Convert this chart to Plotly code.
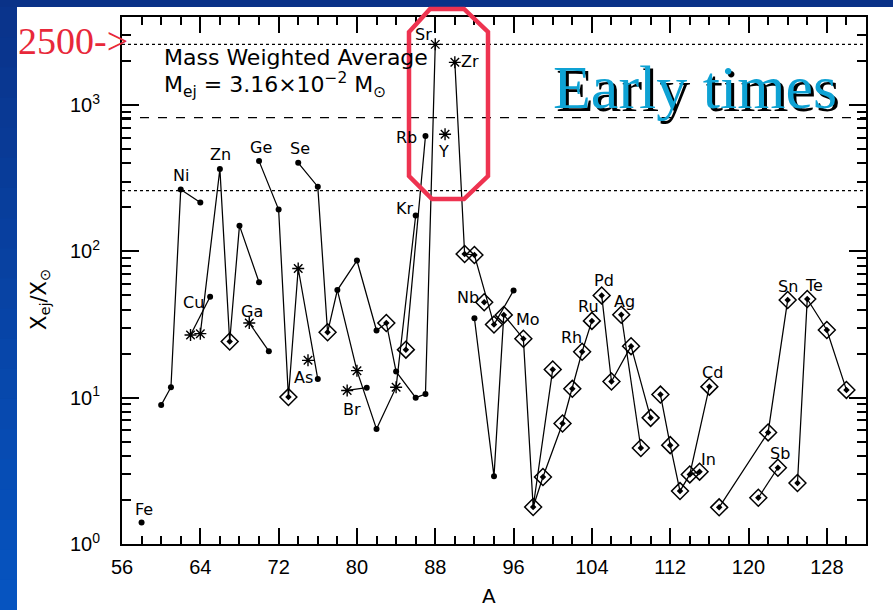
import math
import plotly.graph_objects as go

# ---------------- data: mass number A and X_ej / X_sun ----------------
fe_A = [58];                          fe_X = [1.4]
ni_A = [60, 61, 62, 64];              ni_X = [8.9, 11.8, 265, 216]
cu_A = [63, 65];                      cu_X = [26.8, 49.0]
zn_A = [64, 66, 67, 68, 70];          zn_X = [27.4, 366, 24.2, 150, 61.5]
ga_A = [69, 71];                      ga_X = [32.4, 20.8]
ge_A = [70, 72, 73, 74, 76];          ge_X = [414, 193, 10.1, 76.4, 13.4]
as_A = [75];                          as_X = [18.0]
se_A = [74, 76, 77, 78, 80, 82];      se_X = [403, 277, 28.0, 54.4, 86.6, 28.8]
br_A = [79, 81];                      br_X = [11.2, 11.7]
kr_A = [78, 80, 82, 84, 86];          kr_X = [54.4, 15.3, 6.1, 11.8, 176]
k83_A = [82, 83, 84];                 k83_X = [28.8, 32.4, 15.1]
rb_A = [85, 87];                      rb_X = [21.3, 615]
sr_A = [84, 86, 87, 88];              sr_X = [15.1, 10.0, 10.6, 2600]
y_A = [89];                           y_X = [632]
zr_A = [90, 91, 92, 94, 96];          zr_X = [1960, 96, 94.5, 31.6, 54.1]
nb_A = [93];                          nb_X = [44.9]
mo_A = [92, 94, 95, 97, 98, 100];     mo_X = [34.9, 2.9, 36.8, 25.3, 1.79, 15.6]
ru_A = [98, 99, 101, 102, 103, 104];  ru_X = [1.79, 2.87, 6.66, 11.5, 20.6, 33.5]
pd_A = [105, 106, 108, 110];          pd_X = [50.0, 12.9, 22.5, 7.28]
ag_A = [107, 109];                    ag_X = [36.9, 4.53]
cd_A = [111, 112, 113, 114, 116];     cd_X = [10.5, 4.74, 2.30, 2.99, 11.9]
in_A = [114, 115];                    in_X = [2.99, 3.12]
sn_A = [117, 122, 124];               sn_X = [1.78, 5.79, 46.5]
sb_A = [121, 123];                    sb_X = [2.07, 3.32]
te_A = [125, 126, 128, 130];          te_X = [2.61, 47.3, 29.0, 11.3]

# marker kind per point: o = dot, s = star, d = diamond, n = none
fe_k = "o"; ni_k = "oooo"; cu_k = "so"; zn_k = "sodoo"; ga_k = "so"
ge_k = "oodso"; as_k = "s"; se_k = "oodooo"; br_k = "so"; kr_k = "nsoso"
k83_k = "ndn"; rb_k = "do"; sr_k = "ooos"; y_k = "s"; zr_k = "sdddo"
nb_k = "d"; mo_k = "oodddd"; ru_k = "nddddd"; pd_k = "dddd"; ag_k = "dd"
cd_k = "ddddd"; in_k = "nd"; sn_k = "ddd"; sb_k = "dd"; te_k = "dddd"

ref_levels = [2600, 820, 260]
ref_dash = ["dot", "dash", "dot"]

x_ticks = list(range(56, 129, 8))
y_ticks = [1, 10, 100, 1000]
y_ticktext = ["10<sup>0</sup>", "10<sup>1</sup>", "10<sup>2</sup>", "10<sup>3</sup>"]

chains = {
    "Fe": (fe_A, fe_X, fe_k), "Ni": (ni_A, ni_X, ni_k), "Cu": (cu_A, cu_X, cu_k),
    "Zn": (zn_A, zn_X, zn_k), "Ga": (ga_A, ga_X, ga_k), "Ge": (ge_A, ge_X, ge_k),
    "As": (as_A, as_X, as_k), "Se": (se_A, se_X, se_k), "Br": (br_A, br_X, br_k),
    "Kr": (kr_A, kr_X, kr_k), "K83": (k83_A, k83_X, k83_k), "Rb": (rb_A, rb_X, rb_k),
    "Sr": (sr_A, sr_X, sr_k), "Y": (y_A, y_X, y_k), "Zr": (zr_A, zr_X, zr_k),
    "Nb": (nb_A, nb_X, nb_k), "Mo": (mo_A, mo_X, mo_k), "Ru": (ru_A, ru_X, ru_k),
    "Pd": (pd_A, pd_X, pd_k), "Ag": (ag_A, ag_X, ag_k), "Cd": (cd_A, cd_X, cd_k),
    "In": (in_A, in_X, in_k), "Sn": (sn_A, sn_X, sn_k), "Sb": (sb_A, sb_X, sb_k),
    "Te": (te_A, te_X, te_k),
}

# element labels: (text, chain, A of anchor point, dx px, dy px (down +))
labels = [
    ("Fe", "Fe", 58, 2, -13), ("Ni", "Ni", 62, 0, -14), ("Zn", "Zn", 66, 1, -14),
    ("Ge", "Ge", 70, 2, -14), ("Se", "Se", 74, 2, -14), ("Cu", "Cu", 63, 3, -33),
    ("Ga", "Ga", 69, 3, -12), ("As", "As", 75, -5, 17), ("Br", "Br", 79, 5, 19),
    ("Kr", "Kr", 86, -11, -7), ("Rb", "Rb", 87, -19, 2), ("Sr", "Sr", 88, -12, -10),
    ("Zr", "Zr", 90, 15, -1), ("Y", "Y", 89, -2, 17), ("Nb", "Nb", 93, -16, -5),
    ("Mo", "Mo", 95, 24, 5), ("Rh", "Ru", 103, -11, -14), ("Ru", "Ru", 104, -3, -14),
    ("Pd", "Pd", 105, 2, -15), ("Ag", "Ag", 107, 3, -13), ("Cd", "Cd", 116, 3, -14),
    ("In", "In", 115, 9, -12), ("Sb", "Sb", 123, 2, -14), ("Sn", "Sn", 124, 0, -14),
    ("Te", "Te", 126, 7, -13),
]

# ---------------- layout geometry ----------------
W_FIG, H_FIG = 893, 610
ML, MR, MT, MB = 122, 27, 17, 66
PW = W_FIG - ML - MR
PH = H_FIG - MT - MB


def pxx(x):
    return (x - ML) / PW


def pxy(y):
    return (H_FIG - MB - y) / PH


fig = go.Figure()

# reference levels
for lvl, dsh in zip(ref_levels, ref_dash):
    fig.add_trace(go.Scatter(x=[56, 132], y=[lvl, lvl], mode="lines",
                             line=dict(color="black", width=1.3, dash=dsh),
                             hoverinfo="skip", showlegend=False))

# chain lines
for key, (A, X, k) in chains.items():
    if len(A) > 1:
        fig.add_trace(go.Scatter(x=A, y=X, mode="lines",
                                 line=dict(color="black", width=1.25),
                                 hoverinfo="skip", showlegend=False))

# markers by kind
pts = {"o": ([], []), "s": ([], []), "d": ([], [])}
for key, (A, X, k) in chains.items():
    for a, x, kk in zip(A, X, k):
        if kk in pts:
            pts[kk][0].append(a)
            pts[kk][1].append(x)

fig.add_trace(go.Scatter(x=pts["o"][0], y=pts["o"][1], mode="markers",
                         marker=dict(symbol="circle", size=6, color="black"),
                         showlegend=False))
fig.add_trace(go.Scatter(x=pts["s"][0], y=pts["s"][1], mode="markers",
                         marker=dict(symbol="asterisk-open", size=10, color="black",
                                     line=dict(width=1.4, color="black")),
                         showlegend=False))
fig.add_trace(go.Scatter(x=pts["d"][0], y=pts["d"][1], mode="markers",
                         marker=dict(symbol="diamond-open", size=13, color="black",
                                     line=dict(width=1.5, color="black")),
                         showlegend=False))
fig.add_trace(go.Scatter(x=pts["d"][0], y=pts["d"][1], mode="markers",
                         marker=dict(symbol="diamond", size=5, color="black"),
                         showlegend=False))

annotations = []
lab_font = dict(family="DejaVu Sans", size=16, color="black")
for text, key, a, dx, dy in labels:
    A, X, _ = chains[key]
    xv = X[A.index(a)]
    annotations.append(dict(x=a, y=math.log10(xv), xref="x", yref="y", text=text,
                            showarrow=False, xshift=dx, yshift=-dy, font=lab_font))

txt_font = dict(family="DejaVu Sans", size=22, color="black")
annotations += [
    dict(x=pxx(162), y=pxy(58), xref="paper", yref="paper", xanchor="left", yanchor="middle",
         text="Mass Weighted Average", showarrow=False, font=txt_font),
    dict(x=pxx(162), y=pxy(85), xref="paper", yref="paper", xanchor="left", yanchor="middle",
         text="M<sub>ej</sub> = 3.16×10<sup>−2</sup> M<sub>⊙</sub>", showarrow=False, font=txt_font),
    dict(x=pxx(40), y=pxy(300), xref="paper", yref="paper", xanchor="center", yanchor="middle",
         text="X<sub>ej</sub>/X<sub>⊙</sub>", textangle=-90, showarrow=False,
         font=dict(family="DejaVu Sans", size=21, color="black")),
    dict(x=pxx(489), y=pxy(596), xref="paper", yref="paper", xanchor="center", yanchor="middle",
         text="A", showarrow=False, font=dict(family="DejaVu Sans", size=20, color="black")),
    dict(x=pxx(698), y=pxy(90), xref="paper", yref="paper", xanchor="center", yanchor="middle",
         text="Early times", showarrow=False,
         font=dict(family="Liberation Serif", size=62, color="black")),
    dict(x=pxx(695), y=pxy(87), xref="paper", yref="paper", xanchor="center", yanchor="middle",
         text="Early times", showarrow=False,
         font=dict(family="Liberation Serif", size=62, color="#0EA2D4")),
    dict(x=pxx(16), y=pxy(41), xref="paper", yref="paper", xanchor="left", yanchor="middle",
         text="2500->", showarrow=False,
         font=dict(family="Liberation Serif", size=38, color="#E8283A")),
]

shapes = []
# white slide area
shapes.append(dict(type="rect", xref="paper", yref="paper", x0=pxx(17), x1=pxx(900),
                   y0=pxy(7), y1=pxy(620), fillcolor="white", line=dict(width=0), layer="below"))
# left blue gradient strip
nb_bands = 20
c0 = (10, 52, 140)
c1 = (6, 84, 192)
for i in range(nb_bands):
    t = i / (nb_bands - 1)
    col = "rgb(%d,%d,%d)" % tuple(int(c0[j] + (c1[j] - c0[j]) * t) for j in range(3))
    ya = 7 + i * (603 / nb_bands)
    shapes.append(dict(type="rect", xref="paper", yref="paper", x0=pxx(-5), x1=pxx(17),
                       y0=pxy(ya), y1=pxy(ya + 603 / nb_bands + 1), fillcolor=col,
                       line=dict(width=0), layer="below"))
# red octagon highlight
octo = [(430, 9), (464, 9), (488, 32), (488, 176), (464, 199), (432, 199), (409, 176), (409, 32)]
path = "M " + " L ".join("%f,%f" % (pxx(x), pxy(y)) for x, y in octo) + " Z"
shapes.append(dict(type="path", xref="paper", yref="paper", path=path,
                   line=dict(color="#EE3350", width=4.5), layer="above"))

minor_y = [m * 10 ** e for e in range(4) for m in range(2, 10) if m * 10 ** e <= 4000]

fig.update_layout(
    width=W_FIG, height=H_FIG,
    margin=dict(l=ML, r=MR, t=MT, b=MB),
    paper_bgcolor="#0A3288", plot_bgcolor="white",
    showlegend=False,
    xaxis=dict(range=[56, 132], tickmode="array", tickvals=x_ticks,
               ticks="inside", ticklen=16, tickwidth=1.5, tickcolor="black",
               showline=True, linecolor="black", linewidth=2, mirror="ticks",
               showgrid=False, zeroline=False, ticklabelstandoff=4,
               tickfont=dict(family="Liberation Sans", size=20, color="black"),
               minor=dict(ticks="inside", ticklen=8, tickwidth=1.5, tickcolor="black",
                          tickmode="linear", tick0=56, dtick=2, showgrid=False)),
    yaxis=dict(type="log", range=[0, math.log10(4000)], tickmode="array",
               tickvals=y_ticks, ticktext=y_ticktext,
               ticks="inside", ticklen=17, tickwidth=1.5, tickcolor="black",
               showline=True, linecolor="black", linewidth=2, mirror="ticks",
               showgrid=False, zeroline=False, ticklabelstandoff=16,
               tickfont=dict(family="Liberation Sans", size=20, color="black"),
               minor=dict(ticks="inside", ticklen=9, tickwidth=1.5, tickcolor="black",
                          tickmode="array", tickvals=minor_y, showgrid=False)),
    annotations=annotations,
    shapes=shapes,
)

fig.write_html("out.html")
